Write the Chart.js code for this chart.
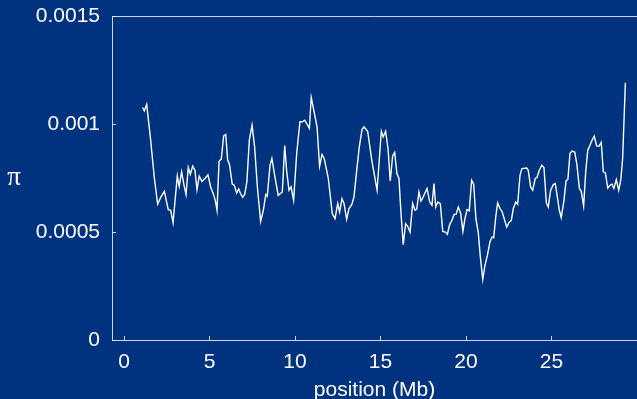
<!DOCTYPE html>
<html>
<head>
<meta charset="utf-8">
<script src="https://cdn.jsdelivr.net/npm/chart.js@4.4.0/dist/chart.umd.min.js"></script>
<style>
  html, body { margin: 0; padding: 0; background: #00337f; }
</style>
</head>
<body>
<canvas id="piChart" width="637" height="399"></canvas>
<script>
// position along the chromosome (Mb)
const positions = [
  1.09, 1.19, 1.33, 1.56, 1.77, 1.97, 2.16, 2.36, 2.59, 2.73, 2.87, 3.12, 3.23, 3.37, 3.51, 3.63, 3.76,
  3.88, 4.02, 4.15, 4.27, 4.40, 4.56, 4.74, 4.91, 5.07, 5.22, 5.34, 5.44, 5.56, 5.69, 5.83, 5.95, 6.06,
  6.18, 6.33, 6.45, 6.59, 6.71, 6.80, 6.94, 7.06, 7.19, 7.33, 7.49, 7.64, 7.80, 7.99, 8.15, 8.29, 8.38,
  8.54, 8.65, 8.83, 9.02, 9.26, 9.40, 9.51, 9.65, 9.77, 9.92, 10.10, 10.29, 10.43, 10.57, 10.84, 10.95,
  11.13, 11.29, 11.44, 11.58, 11.71, 11.95, 12.18, 12.34, 12.50, 12.61, 12.75, 12.87, 13.02, 13.16, 13.32,
  13.45, 13.61, 13.76, 13.92, 14.04, 14.25, 14.49, 14.80, 15.05, 15.16, 15.30, 15.44, 15.57, 15.71, 15.83,
  15.96, 16.08, 16.20, 16.33, 16.47, 16.59, 16.73, 16.88, 17.02, 17.12, 17.25, 17.37, 17.50, 17.72, 17.88,
  18.01, 18.13, 18.23, 18.35, 18.50,
  18.64, 18.79, 18.91, 19.05, 19.20, 19.30, 19.42, 19.55, 19.69, 19.82, 19.94, 20.06, 20.19, 20.33, 20.45,
  20.58, 20.72, 20.84, 20.98, 21.11, 21.25, 21.40, 21.52, 21.62, 21.74, 21.85, 21.99, 22.12, 22.38, 22.51,
  22.65, 22.77, 22.91, 23.02, 23.16, 23.27, 23.55, 23.64, 23.78, 23.90, 24.05, 24.15, 24.29, 24.43, 24.56,
  24.70, 24.81, 24.95, 25.11, 25.22, 25.34, 25.46, 25.57, 25.73, 25.85, 25.96, 26.08, 26.20, 26.36, 26.49,
  26.63, 26.74, 26.88, 27.00, 27.12, 27.25, 27.39, 27.50, 27.64, 27.78, 27.91, 28.03, 28.15, 28.29, 28.42,
  28.54, 28.65, 28.79, 28.93, 29.05, 29.16, 29.32
];

// nucleotide diversity pi at each position
const piValues = [
  0.001077, 0.001062, 0.001091, 0.000926, 0.000755, 0.000629, 0.000663, 0.000689, 0.000604, 0.000601,
  0.000544, 0.000760, 0.000712, 0.000779, 0.000717, 0.000674, 0.000799, 0.000768, 0.000806, 0.000786,
  0.000697, 0.000759, 0.000735, 0.000748, 0.000765, 0.000709, 0.000678, 0.000647, 0.000601, 0.000828,
  0.000838, 0.000946, 0.000952, 0.000836, 0.000810, 0.000722, 0.000717, 0.000681, 0.000700, 0.000681,
  0.000661, 0.000674, 0.000735, 0.000926, 0.000995, 0.000895, 0.000709, 0.000550, 0.000601, 0.000674,
  0.000666,
  0.000810, 0.000841, 0.000755, 0.000670, 0.000686, 0.000901, 0.000786, 0.000694, 0.000709, 0.000647,
  0.000864, 0.001011, 0.001011, 0.001018, 0.000980, 0.001124, 0.001052, 0.000987, 0.000805, 0.000859,
  0.000841, 0.000748, 0.000586, 0.000562, 0.000632, 0.000593, 0.000655, 0.000632, 0.000559, 0.000609,
  0.000627, 0.000663, 0.000786, 0.000895, 0.000975, 0.000987, 0.000967, 0.000833, 0.000694, 0.000967,
  0.000941, 0.000967, 0.000887, 0.000737, 0.000853, 0.000869, 0.000771, 0.000748, 0.000586, 0.000442,
  0.000539, 0.000527, 0.000500, 0.000632, 0.000601, 0.000606, 0.000686, 0.000644, 0.000663, 0.000702,
  0.000639, 0.000624, 0.000725, 0.000616, 0.000639, 0.000632,
  0.000503, 0.000500, 0.000490, 0.000536, 0.000558, 0.000582, 0.000582, 0.000616, 0.000586, 0.000503,
  0.000562, 0.000604, 0.000598, 0.000740, 0.000722, 0.000562, 0.000496, 0.000384, 0.000281, 0.000346,
  0.000392, 0.000454, 0.000477, 0.000474, 0.000570, 0.000635, 0.000609, 0.000593, 0.000523, 0.000544,
  0.000554, 0.000609, 0.000639, 0.000629, 0.000763, 0.000794, 0.000797, 0.000786, 0.000709, 0.000694,
  0.000748, 0.000753, 0.000786, 0.000810, 0.000799, 0.000635, 0.000616, 0.000694, 0.000720, 0.000725,
  0.000663, 0.000601, 0.000567, 0.000647, 0.000737, 0.000745, 0.000864, 0.000875, 0.000871, 0.000810,
  0.000702, 0.000689, 0.000621, 0.000779, 0.000879, 0.000902, 0.000929, 0.000944, 0.000899, 0.000898,
  0.000916, 0.000779, 0.000774, 0.000704, 0.000717, 0.000722, 0.000702, 0.000743, 0.000694, 0.000740,
  0.000841, 0.001192
];

const xTicks = [0, 5, 10, 15, 20, 25];
const yTicks = [0, 0.0005, 0.001, 0.0015];

const bgColor = '#00337f';
const axisColor = 'rgba(225,232,245,0.9)';
const fontFamily = '"Liberation Sans", Arial, sans-serif';

// ticks pointing inward, top frame line and the upright pi label
const frame = {
  id: 'frame',
  beforeDraw(chart) {
    const ctx = chart.ctx;
    ctx.save();
    ctx.fillStyle = bgColor;
    ctx.fillRect(0, 0, chart.width, chart.height);
    ctx.restore();
  },
  afterDraw(chart) {
    const { ctx, chartArea: a, scales: { x, y } } = chart;
    ctx.save();
    ctx.strokeStyle = axisColor;
    ctx.lineWidth = 1;
    ctx.beginPath();
    ctx.moveTo(a.left, Math.round(a.top) + 0.5);
    ctx.lineTo(a.right, Math.round(a.top) + 0.5);
    xTicks.forEach(v => {
      const px = Math.round(x.getPixelForValue(v)) + 0.5;
      ctx.moveTo(px, a.bottom);
      ctx.lineTo(px, a.bottom - 4);
    });
    yTicks.forEach(v => {
      const py = Math.round(y.getPixelForValue(v)) + 0.5;
      ctx.moveTo(a.left, py);
      ctx.lineTo(a.left + 4, py);
    });
    ctx.stroke();

    ctx.fillStyle = '#ffffff';
    ctx.font = '27px "Liberation Serif", "DejaVu Serif", serif';
    ctx.textAlign = 'center';
    ctx.textBaseline = 'middle';
    ctx.fillText('π', a.left - 98, (a.top + a.bottom) / 2);
    ctx.restore();
  }
};

new Chart(document.getElementById('piChart'), {
  type: 'line',
  data: {
    datasets: [{
      data: positions.map((p, i) => ({ x: p, y: piValues[i] })),
      borderColor: '#ffffff',
      borderWidth: 1.4,
      pointRadius: 0,
      tension: 0,
      fill: false
    }]
  },
  options: {
    responsive: false,
    animation: false,
    devicePixelRatio: 1,
    layout: { padding: { top: 0, right: 0, bottom: 0, left: 0 } },
    plugins: {
      legend: { display: false },
      tooltip: { enabled: false }
    },
    scales: {
      x: {
        type: 'linear',
        min: -0.7,
        max: 30,
        afterBuildTicks: s => { s.ticks = xTicks.map(v => ({ value: v })); },
        afterFit: s => { s.height = 59; },
        grid: { display: false },
        border: { display: true, color: axisColor, width: 1 },
        ticks: {
          color: '#ffffff',
          padding: 2,
          maxRotation: 0,
          font: { family: fontFamily, size: 21 },
          callback: v => String(v)
        },
        title: {
          display: true,
          text: 'position (Mb)',
          color: '#ffffff',
          font: { family: fontFamily, size: 21, lineHeight: 0.8 },
          padding: { top: 0, bottom: 0 }
        }
      },
      y: {
        min: 0,
        max: 0.0015,
        afterBuildTicks: s => { s.ticks = yTicks.map(v => ({ value: v })); },
        afterFit: s => { s.width = 112; },
        grid: { display: false, drawTicks: false },
        border: { display: true, color: axisColor, width: 1 },
        ticks: {
          color: '#ffffff',
          padding: 12,
          font: { family: fontFamily, size: 21, lineHeight: 0.4 },
          callback: v => String(v)
        }
      }
    }
  },
  plugins: [frame]
});
</script>
</body>
</html>
